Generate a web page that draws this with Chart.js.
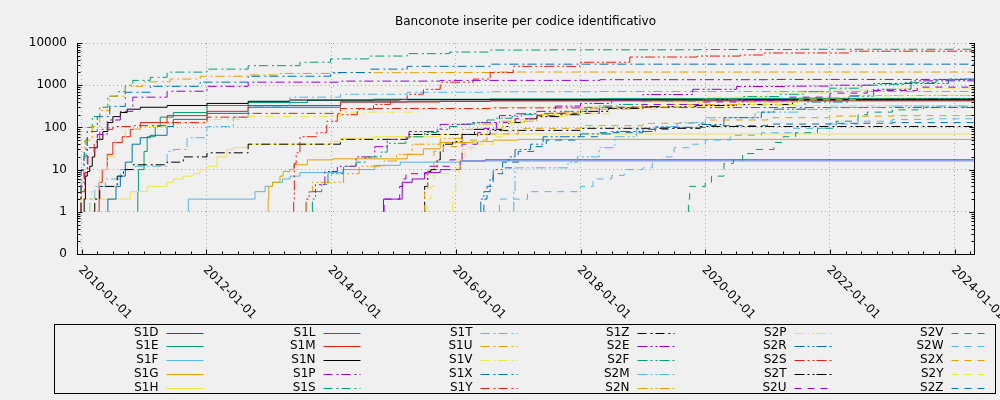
<!DOCTYPE html>
<html><head><meta charset="utf-8">
<script src="https://cdn.jsdelivr.net/npm/chart.js@4.4.1/dist/chart.umd.min.js"></script>
<style>html,body{margin:0;padding:0;background:#f0f0f0;}canvas{display:block;}</style>
</head><body>
<div style="width:1000px;height:400px;position:relative"><canvas id="c" width="1000" height="400"></canvas></div>
<script>
const chartTitle = 'Banconote inserite per codice identificativo';
const seriesNames = ['S1D','S1E','S1F','S1G','S1H','S1L','S1M','S1N','S1P','S1S','S1T','S1U','S1V','S1X','S1Y','S1Z',
  'S2E','S2F','S2M','S2N','S2P','S2R','S2S','S2T','S2U','S2V','S2W','S2X','S2Y','S2Z'];

// [decimal year, cumulative count]
const S1D = [[2014.84,1],[2015.14,2],[2015.3,5],[2015.5,6],[2015.75,8.5],[2016.07,10],[2016.47,16],[2018.16,17],[2024.31,17]];
const S1E = [[2010.9,1],[2010.91,3],[2011.0,10],[2011.05,27],[2011.18,60],[2011.26,105],[2011.47,175],[2012.01,225],[2012.67,330],[2013.62,390],[2014.68,440],[2016.55,465],[2018.3,475],[2024.31,485]];
const S1F = [[2011.71,1],[2012.78,2],[2012.94,3],[2013.06,4],[2013.22,5],[2013.34,6],[2013.5,7],[2014.19,8.5],[2014.7,10],[2015.11,12.6],[2016.07,15],[2016.45,16],[2024.31,16]];
const S1G = [[2012.99,1],[2013.0,2],[2013.06,4],[2013.18,5],[2013.23,7],[2013.34,9],[2013.4,10],[2013.62,13],[2014.03,17],[2015.22,18],[2015.48,23],[2015.75,31],[2016.28,44],[2016.6,46],[2017.0,50],[2017.99,52],[2024.31,52]];
const S1H = [[2009.99,1],[2010.78,2],[2011.05,3],[2011.37,4],[2011.47,5],[2011.63,6],[2011.79,7],[2011.9,8],[2012.01,10],[2012.17,12],[2012.33,20],[2012.43,30],[2012.67,33],[2013.99,40],[2014.15,46],[2014.68,55],[2015.75,60],[2016.55,68],[2017.5,70],[2024.31,70]];
const S1L = [[2010.42,1],[2010.55,2],[2010.62,4],[2010.7,7],[2010.81,15],[2010.94,40],[2011.1,57],[2011.37,65],[2011.47,105],[2012.01,155],[2012.67,215],[2014.15,300],[2015.22,400],[2016.55,415],[2018.3,430],[2024.31,440]];
const S1M = [[2010.28,1],[2010.33,5],[2010.41,10],[2010.5,23],[2010.65,44],[2010.78,60],[2010.94,90],[2011.37,130],[2012.01,190],[2012.67,240],[2014.15,330],[2015.75,400],[2016.55,415],[2024.31,425]];
const S1N = [[2010.04,1],[2010.06,2],[2010.09,7],[2010.13,9],[2010.17,12],[2010.21,20],[2010.25,33],[2010.34,52],[2010.42,80],[2010.5,130],[2010.62,180],[2010.73,225],[2010.94,270],[2011.37,300],[2012.01,330],[2012.67,370],[2013.34,415],[2015.1,445],[2016.55,455],[2024.31,455]];
const S1P = [[2009.99,1],[2010.05,4],[2010.09,8.5],[2010.25,33],[2010.41,68],[2010.62,150],[2010.82,240],[2011.37,520],[2012.01,720],[2012.67,940],[2014.15,1180],[2015.75,1250],[2018.31,1300],[2021.0,1350],[2024.31,1370]];
const S1S = [[2009.99,1],[2010.03,5],[2010.07,20],[2010.09,52],[2010.17,100],[2010.29,180],[2010.42,300],[2010.57,547],[2010.7,700],[2010.82,1000],[2011.1,1300],[2011.37,1540],[2012.01,2040],[2012.67,2400],[2013.5,2900],[2013.99,3500],[2014.6,4200],[2015.22,4900],[2015.9,5600],[2016.55,6100],[2017.51,6800],[2019.9,6900],[2021.5,7000],[2024.31,7100]];
const S1T = [[2010.13,1],[2010.21,2],[2010.38,4],[2010.62,6],[2010.86,10],[2011.37,12],[2011.47,27],[2011.69,30],[2012.01,57],[2012.43,105],[2012.67,175],[2013.34,315],[2014.15,520],[2015.22,610],[2016.55,680],[2018.31,700],[2024.31,710]];
const S1U = [[2009.99,1],[2010.03,5],[2010.05,20],[2010.17,50],[2010.29,105],[2010.45,250],[2010.7,550],[2010.98,940],[2011.42,1200],[2011.9,1400],[2012.67,1630],[2013.18,1750],[2014.15,1900],[2015.43,1980],[2016.55,2000],[2024.31,2050]];
const S1V = [[2010.13,1],[2010.16,2],[2010.29,3],[2010.41,10],[2010.54,20],[2010.7,52],[2010.94,90],[2011.37,105],[2012.01,125],[2012.67,155],[2014.15,180],[2015.43,230],[2016.55,270],[2019.92,300],[2024.31,330]];
const S1X = [[2009.99,1],[2010.04,10],[2010.09,30],[2010.25,80],[2010.45,180],[2010.7,315],[2011.1,680],[2011.9,940],[2012.67,1180],[2013.99,1630],[2014.63,2000],[2015.22,2400],[2016.55,2800],[2017.99,3150],[2024.31,3150]];
const S1Y = [[2009.99,1],[2010.05,3],[2010.1,8.5],[2010.2,20],[2010.29,46],[2010.5,90],[2010.82,105],[2011.37,110],[2012.01,130],[2012.67,175],[2014.15,215],[2016.55,280],[2018.3,290],[2024.31,295]];
const S1Z = [[2010.21,1],[2010.29,2],[2010.57,4],[2010.67,7],[2010.82,10],[2011.37,13],[2011.63,15],[2012.01,20],[2012.67,25],[2014.15,40],[2015.22,52],[2016.55,68],[2017.99,85],[2019.92,95],[2024.31,105]];
const S2E = [[2013.6,1],[2013.65,2],[2013.75,3],[2013.9,4.4],[2014.1,9],[2014.4,12],[2014.7,20],[2014.9,35],[2015.25,52],[2015.75,80],[2016.27,118],[2016.7,130],[2016.95,190],[2017.3,210],[2017.6,240],[2018.0,320],[2018.5,370],[2019.0,450],[2019.8,600],[2020.5,800],[2021.3,930],[2022.0,950],[2022.7,1000],[2023.3,1100],[2024.1,1270],[2024.31,1270]];
const S2F = [[2013.7,1],[2013.75,2],[2013.85,3],[2013.95,4.4],[2014.2,8],[2014.4,12],[2014.55,15],[2014.8,20],[2014.9,26],[2015.2,42],[2015.5,60],[2015.7,76],[2015.9,90],[2016.05,105],[2016.3,120],[2016.5,130],[2016.65,150],[2016.9,165],[2017.05,180],[2017.4,200],[2017.65,215],[2018.1,240],[2018.3,300],[2018.6,320],[2019.0,350],[2019.9,420],[2020.6,460],[2021.2,540],[2021.6,610],[2022.0,700],[2022.5,850],[2022.8,1000],[2023.2,1050],[2023.7,1150],[2024.1,1350],[2024.31,1350]];
const S2M = [[2016.93,1],[2016.95,3],[2017.0,11],[2017.8,11],[2017.95,15],[2018.3,20],[2018.55,33],[2018.9,60],[2019.2,90],[2019.55,105],[2020.0,130],[2020.8,170],[2021.5,230],[2022.0,265],[2023.0,300],[2024.31,320]];
const S2N = [[2013.6,1],[2013.65,2],[2013.7,3],[2014.2,5],[2014.45,8],[2014.85,12],[2015.05,16],[2015.3,23],[2015.75,40],[2016.1,55],[2016.35,90],[2016.7,120],[2017.3,140],[2017.5,200],[2018.0,220],[2018.8,270],[2019.4,310],[2020.5,350],[2021.5,400],[2022.3,500],[2023.5,570],[2024.31,570]];
const S2P = [[2015.95,1],[2016.0,3],[2016.05,7],[2016.1,12],[2016.25,30],[2016.5,46],[2016.9,80],[2017.3,155],[2017.8,180],[2018.2,230],[2019.0,300],[2020.0,400],[2021.0,520],[2022.0,650],[2023.0,780],[2024.31,850]];
const S2R = [[2016.4,1],[2016.45,2],[2016.55,3],[2016.6,6],[2016.75,10],[2016.85,15],[2016.95,20],[2017.2,30],[2017.4,40],[2018.0,60],[2018.5,70],[2019.2,80],[2019.9,100],[2020.3,117],[2020.9,170],[2021.1,230],[2021.6,270],[2022.3,400],[2022.7,550],[2023.3,800],[2023.9,1100],[2024.1,1400],[2024.31,1400]];
const S2S = [[2013.4,1],[2013.41,2],[2013.44,14],[2013.5,25],[2013.77,60],[2013.93,75],[2014.1,140],[2014.42,200],[2014.68,270],[2014.95,350],[2015.22,460],[2015.48,610],[2015.75,800],[2016.28,1180],[2016.55,1400],[2016.92,2000],[2017.99,2800],[2018.79,3500],[2019.87,4650],[2020.56,4900],[2020.93,5200],[2022.32,5800],[2024.14,6400],[2024.31,6400]];
const S2T = [[2015.5,1],[2015.55,4],[2015.6,9],[2015.7,10],[2015.75,17],[2015.8,27],[2015.95,40],[2016.1,46],[2016.3,68],[2016.75,90],[2016.85,105],[2017.1,130],[2017.3,160],[2017.65,180],[2018.0,200],[2018.45,240],[2019.0,280],[2019.85,310],[2020.5,330],[2021.4,350],[2022.1,450],[2023.0,460],[2024.31,465]];
const S2U = [[2014.85,1],[2015.1,2],[2015.15,4],[2015.2,6],[2015.55,8],[2015.9,12],[2016.1,17],[2016.35,40],[2016.45,75],[2016.65,95],[2016.95,130],[2017.3,160],[2017.65,190],[2018.3,215],[2019.0,300],[2019.9,350],[2020.6,400],[2021.3,430],[2022.0,520],[2022.6,650],[2023.4,750],[2023.9,900],[2024.31,900]];
const S2V = [[2019.73,1],[2019.75,2],[2020.0,4],[2020.1,5],[2020.3,7],[2020.45,14],[2020.6,17],[2020.8,24],[2021.1,30],[2021.25,44],[2021.45,60],[2021.8,75],[2022.1,95],[2022.45,140],[2022.6,200],[2023.0,230],[2023.5,260],[2024.0,300],[2024.31,300]];
const S2W = [[2016.7,1],[2017.15,2],[2018.0,3],[2018.2,4],[2018.5,6],[2018.7,7.3],[2019.0,10],[2019.15,11],[2019.3,17],[2019.5,20],[2019.8,33],[2020.0,40],[2020.4,50],[2020.9,65],[2021.4,75],[2022.0,95],[2022.45,120],[2023.0,140],[2023.6,155],[2024.31,160]];
const S2X = [[2015.5,1],[2015.55,3],[2015.65,10],[2015.8,27],[2016.1,35],[2016.5,50],[2017.0,70],[2018.0,95],[2019.0,110],[2020.0,125],[2021.0,150],[2022.0,170],[2023.0,185],[2024.31,190]];
const S2Y = [[2015.55,1],[2015.6,2],[2015.65,4],[2015.9,8],[2016.0,10],[2016.15,17],[2016.3,33],[2016.6,40],[2016.75,60],[2017.1,130],[2017.4,170],[2017.8,200],[2018.5,210],[2019.2,270],[2020.4,310],[2021.5,350],[2022.5,450],[2023.5,560],[2024.31,580]];
const S2Z = [[2016.45,1],[2016.5,2],[2016.6,4],[2016.75,8],[2016.9,11],[2017.0,15],[2017.25,27],[2017.45,35],[2017.95,50],[2018.3,60],[2019.0,75],[2019.5,90],[2020.0,100],[2021.0,110],[2022.0,120],[2023.0,125],[2024.31,130]];

const allSeries = [S1D,S1E,S1F,S1G,S1H,S1L,S1M,S1N,S1P,S1S,S1T,S1U,S1V,S1X,S1Y,S1Z,
  S2E,S2F,S2M,S2N,S2P,S2R,S2S,S2T,S2U,S2V,S2W,S2X,S2Y,S2Z];

const yTickValues = [0.1, 1, 10, 100, 1000, 10000];
const yTickLabels = ['0', '1', '10', '100', '1000', '10000'];
const xTickYears = [2010, 2012, 2014, 2016, 2018, 2020, 2022, 2024];
const xTickLabels = ['2010-01-01','2012-01-01','2014-01-01','2016-01-01','2018-01-01','2020-01-01','2022-01-01','2024-01-01'];
const xMin = 2009.925, xMax = 2024.31;

// styles
const palette = ['#9400d3','#009e73','#56b4e9','#e69f00','#f0e442','#0072b2','#e51e10','#000000'];
const dashes = [[], [9,4,2,3], [10,3,2,3,2,2], [7,6]];
const FONT = '12px "DejaVu Sans"';
const AREA_TOP = 43, AREA_BOTTOM = 254;

const datasets = allSeries.map((pts, i) => ({
  label: seriesNames[i],
  data: pts.map(p => ({x: p[0], y: p[1]})),
  borderColor: palette[i % 8],
  borderWidth: 1,
  borderDash: dashes[Math.floor(i / 8)],
  pointRadius: 0,
  stepped: 'after',
  fill: false,
  order: -i
}));

const decor = {
  id: 'decor',
  beforeDraw(chart) {
    const ctx = chart.ctx;
    ctx.save(); ctx.fillStyle = '#f0f0f0'; ctx.fillRect(0, 0, chart.width, chart.height); ctx.restore();
  },
  afterDraw(chart) {
    const {ctx, chartArea: ca} = chart;
    const xs = chart.scales.x, ys = chart.scales.y;
    const L = Math.round(ca.left) + 0.5, R = Math.round(ca.right) + 0.5;
    const T = Math.round(ca.top), B = Math.round(ca.bottom) + 0.5;
    ctx.save();
    ctx.strokeStyle = '#000'; ctx.lineWidth = 1;
    ctx.beginPath();
    ctx.moveTo(L, T); ctx.lineTo(L, B); ctx.lineTo(R, B); ctx.lineTo(R, T);
    const dec = [0.1, 1, 10, 100, 1000];
    yTickValues.forEach(v => {
      const py = Math.round(ys.getPixelForValue(v)) + 0.5;
      ctx.moveTo(L, py); ctx.lineTo(L + 5, py);
      ctx.moveTo(R, py); ctx.lineTo(R - 5, py);
    });
    dec.forEach(d => { for (let k = 2; k <= 9; k++) {
      const py = Math.round(ys.getPixelForValue(d * k)) + 0.5;
      ctx.moveTo(L, py); ctx.lineTo(L + 3, py);
      ctx.moveTo(R, py); ctx.lineTo(R - 3, py);
    }});
    for (let q = Math.ceil(xMin * 4) / 4; q <= xMax; q += 0.25) {
      const px = Math.round(xs.getPixelForValue(q)) + 0.5;
      const major = Math.abs(q - Math.round(q)) < 1e-6 && Math.round(q) % 2 === 0;
      ctx.moveTo(px, B); ctx.lineTo(px, B - (major ? 5 : 3));
    }
    ctx.stroke();
    ctx.fillStyle = '#000'; ctx.font = FONT; ctx.textAlign = 'left'; ctx.textBaseline = 'middle';
    xTickYears.forEach((yr, i) => {
      const px = xs.getPixelForValue(yr);
      ctx.save(); ctx.translate(px - 1.5, 268); ctx.rotate(Math.PI / 4);
      ctx.fillText(xTickLabels[i], 0, 0); ctx.restore();
    });
    ctx.textAlign = 'center';
    ctx.fillText(chartTitle, (ca.left + ca.right) / 2, 22);
    ctx.strokeRect(54.5, 324.5, 941, 69);
    seriesNames.forEach((name, i) => {
      const col = Math.floor(i / 5), row = i % 5;
      const lx = 158.5 + 157 * col, ly = 332.5 + 13.8 * row;
      ctx.textAlign = 'right'; ctx.fillStyle = '#000';
      ctx.fillText(name, lx, ly);
      ctx.beginPath();
      ctx.strokeStyle = palette[i % 8];
      ctx.setLineDash(dashes[Math.floor(i / 8)]);
      const yy = Math.round(ly) + 0.5;
      ctx.moveTo(lx + 8, yy); ctx.lineTo(lx + 45, yy);
      ctx.stroke();
      ctx.setLineDash([]);
    });
    ctx.restore();
  }
};

new Chart(document.getElementById('c'), {
  type: 'line',
  data: { datasets },
  options: {
    responsive: false,
    devicePixelRatio: 1,
    animation: false,
    events: [],
    layout: { padding: { left: 0, right: 26, top: AREA_TOP, bottom: 0 } },
    plugins: { legend: { display: false }, tooltip: { enabled: false }, title: { display: false } },
    scales: {
      x: {
        type: 'linear', min: xMin, max: xMax,
        afterBuildTicks: s => { s.ticks = xTickYears.map(v => ({ value: v })); },
        afterFit: s => { s.height = 400 - AREA_BOTTOM; },
        ticks: { display: false },
        grid: { color: '#a8a8a8', lineWidth: 1, drawTicks: false },
        border: { display: false, dash: [1, 3] }
      },
      y: {
        type: 'logarithmic', min: 0.1, max: 10000,
        afterBuildTicks: s => { s.ticks = yTickValues.map(v => ({ value: v })); },
        afterFit: s => { s.width = 77; },
        ticks: {
          color: '#000', font: { family: 'DejaVu Sans', size: 12 }, padding: 10,
          callback: (v) => { const i = yTickValues.indexOf(v); return i >= 0 ? yTickLabels[i] : ''; }
        },
        grid: { color: '#a8a8a8', lineWidth: 1, drawTicks: false },
        border: { display: false, dash: [1, 3] }
      }
    }
  },
  plugins: [decor]
});
</script>
</body></html>
